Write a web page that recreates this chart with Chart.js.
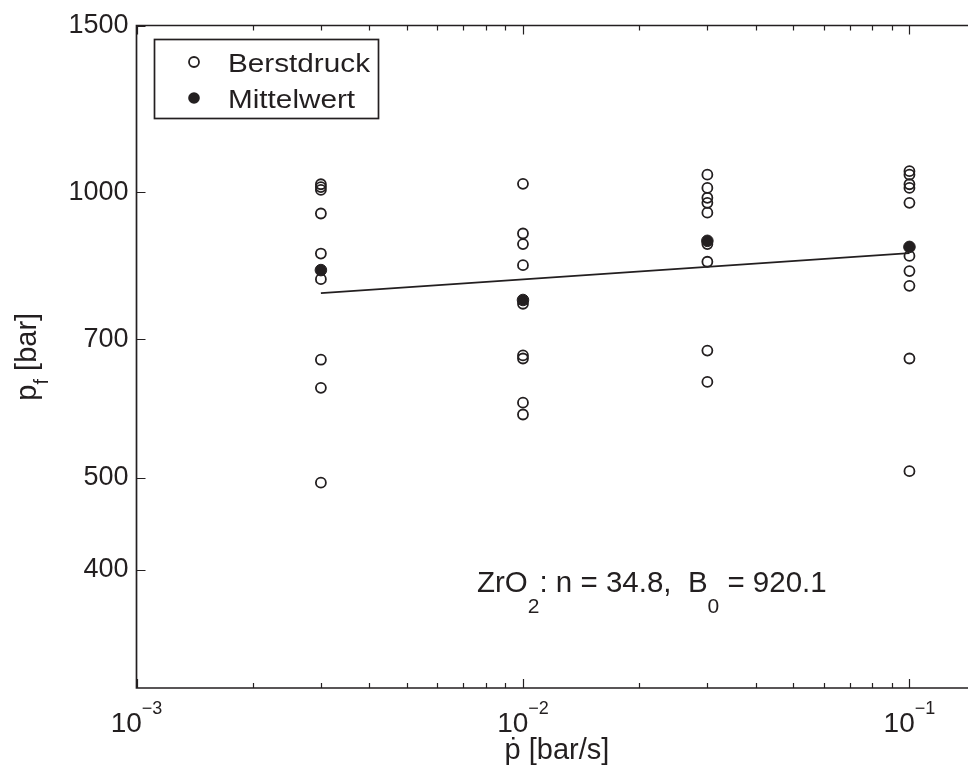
<!DOCTYPE html>
<html><head><meta charset="utf-8">
<script src="https://cdn.jsdelivr.net/npm/chart.js@4.4.1/dist/chart.umd.min.js"></script>
<style>
html,body{margin:0;padding:0;overflow:hidden;background:#fff;width:968px;height:771px}
#wrap{position:absolute;left:0;top:0;width:990px;height:771px}
</style></head><body>
<div id="wrap"><canvas id="c" width="990" height="771"></canvas></div>
<script>
// ---- data ----
const rateLevels = [0.003, 0.01, 0.03, 0.1];
const burstAt0003 = [1020, 1013, 1006, 950, 862, 810, 666, 622, 494];
const burstAt001  = [1021, 905, 882, 838, 763, 673, 668, 600, 583];
const burstAt003  = [1044, 1011, 987, 975, 952, 882, 845, 681, 631];
const burstAt01   = [1053, 1044, 1020, 1011, 975, 857, 826, 797, 668, 508];
const meanValues  = [828, 770, 889, 876];
const fitRates  = [0.003, 0.1];
const fitValues = [783, 863];
const yTickValues = [400, 500, 700, 1000, 1500];
const xTickValues = [0.001, 0.01, 0.1];
const xTickExponents = ['\u22123', '\u22122', '\u22121'];
const seriesLabels = ['Berstdruck', 'Mittelwert'];
const xTitle = '\u1E57 [bar/s]';
const yTitleParts = ['p', 'f', ' [bar]'];
const annotationParts = ['ZrO', '2', ': n = 34.8,  B', '0', ' = 920.1'];

const FONT = '"Liberation Sans", Arial, Helvetica, sans-serif';
const INK = '#231f20';

const burstGroups = [burstAt0003, burstAt001, burstAt003, burstAt01];
const burstPoints = burstGroups.flatMap((g, i) => g.map(v => ({x: rateLevels[i], y: v})));
const meanPoints = meanValues.map((v, i) => ({x: rateLevels[i], y: v}));
const fitPoints = fitValues.map((v, i) => ({x: fitRates[i], y: v}));

const frame = {
  id: 'frame',
  afterDraw(chart) {
    const {ctx, chartArea: a, scales: {x, y}} = chart;
    ctx.save();
    ctx.strokeStyle = INK;
    ctx.lineWidth = 1.7;
    ctx.lineCap = 'butt';
    ctx.beginPath();
    ctx.moveTo(a.right, a.top); ctx.lineTo(a.left, a.top);
    ctx.lineTo(a.left, a.bottom); ctx.lineTo(a.right, a.bottom);
    ctx.lineTo(a.right, a.top);
    ctx.stroke();
    // x ticks (inward, bottom and top)
    ctx.lineWidth = 1.2;
    ctx.beginPath();
    for (let d = -3; d <= -1; d++) {
      for (let m = 1; m <= 9; m++) {
        const v = m * Math.pow(10, d);
        if (v > x.max) break;
        const px = Math.round(x.getPixelForValue(v)) + 0.5;
        const len = m === 1 ? 9 : 5;
        ctx.moveTo(px, a.bottom); ctx.lineTo(px, a.bottom - len);
        ctx.moveTo(px, a.top); ctx.lineTo(px, a.top + len);
      }
    }
    // y ticks
    yTickValues.forEach(v => {
      const py = Math.round(y.getPixelForValue(v)) + 0.5;
      ctx.moveTo(a.left, py); ctx.lineTo(a.left + 9, py);
    });
    ctx.stroke();

    ctx.fillStyle = INK;
    ctx.textAlign = 'left';
    ctx.textBaseline = 'alphabetic';
    // x tick labels with superscripts
    xTickValues.forEach((v, i) => {
      const px = x.getPixelForValue(v);
      ctx.font = '28px ' + FONT;
      const wm = ctx.measureText('10').width;
      ctx.font = '18px ' + FONT;
      const ws = ctx.measureText(xTickExponents[i]).width;
      const s = px - (wm + ws) / 2;
      ctx.font = '28px ' + FONT;
      ctx.fillText('10', s, 732);
      ctx.font = '18px ' + FONT;
      ctx.fillText(xTickExponents[i], s + wm, 714);
    });
    // x title
    ctx.font = '29px ' + FONT + ', "DejaVu Sans"';
    ctx.textAlign = 'center';
    ctx.fillText(xTitle, (a.left + a.right) / 2, 759);
    // y title
    ctx.save();
    ctx.translate(36, (a.top + a.bottom) / 2);
    ctx.rotate(-Math.PI / 2);
    ctx.textAlign = 'left';
    ctx.font = '29px ' + FONT;
    const wp = ctx.measureText(yTitleParts[0]).width;
    const wr = ctx.measureText(yTitleParts[2]).width;
    ctx.font = '20px ' + FONT;
    const wf = ctx.measureText(yTitleParts[1]).width;
    let sx = -(wp + wf + wr) / 2;
    ctx.font = '29px ' + FONT;
    ctx.fillText(yTitleParts[0], sx, 0);
    ctx.font = '20px ' + FONT;
    ctx.fillText(yTitleParts[1], sx + wp, 12);
    ctx.font = '29px ' + FONT;
    ctx.fillText(yTitleParts[2], sx + wp + wf, 0);
    ctx.restore();

    // annotation
    ctx.textAlign = 'left';
    let ax = 477;
    annotationParts.forEach((t, i) => {
      const sub = i % 2 === 1;
      ctx.font = (sub ? '21px ' : '29.5px ') + FONT;
      ctx.fillText(t, ax, sub ? 613 : 592);
      ax += ctx.measureText(t).width;
    });

    // legend
    ctx.fillStyle = '#fff';
    ctx.fillRect(154, 39, 224, 79);
    ctx.strokeStyle = INK;
    ctx.lineWidth = 1.7;
    ctx.strokeRect(154.5, 39.5, 224, 79);
    ctx.lineWidth = 1.8;
    ctx.beginPath(); ctx.arc(194, 62, 5, 0, Math.PI * 2); ctx.stroke();
    ctx.fillStyle = INK;
    ctx.beginPath(); ctx.arc(194, 98, 5.8, 0, Math.PI * 2); ctx.fill();
    ctx.font = '26.5px ' + FONT;
    const lw = ctx.measureText(seriesLabels[0]).width;
    const k = 142 / lw;
    [[seriesLabels[0], 71.5], [seriesLabels[1], 107.5]].forEach(([t, by]) => {
      ctx.save();
      ctx.translate(228, by);
      ctx.scale(k, 1);
      ctx.fillText(t, 0, 0);
      ctx.restore();
    });
    ctx.restore();
  }
};

new Chart(document.getElementById('c'), {
  type: 'scatter',
  data: {
    datasets: [
      {label: 'fit', data: fitPoints, showLine: true, borderColor: INK, borderWidth: 1.8,
       pointRadius: 0, pointHoverRadius: 0, fill: false},
      {label: seriesLabels[0], data: burstPoints, pointRadius: 5, pointBorderWidth: 1.8,
       borderColor: INK, backgroundColor: 'rgba(0,0,0,0)', pointBackgroundColor: 'rgba(0,0,0,0)'},
      {label: seriesLabels[1], data: meanPoints, pointRadius: 5.8, pointBorderWidth: 1,
       borderColor: INK, backgroundColor: INK, pointBackgroundColor: INK}
    ]
  },
  options: {
    responsive: false,
    animation: false,
    events: [],
    layout: {padding: {top: 25.5, right: 12.5, left: 0, bottom: 0}},
    plugins: {legend: {display: false}, tooltip: {enabled: false}},
    scales: {
      x: {
        type: 'logarithmic', min: 0.001, max: 0.15,
        grid: {display: false, drawTicks: false}, border: {display: false},
        ticks: {display: false},
        afterFit(s) { s.height = 83; }
      },
      y: {
        type: 'logarithmic', min: 300, max: 1500,
        grid: {display: false, drawTicks: false}, border: {display: false},
        ticks: {autoSkip: false, padding: 8, color: INK, font: {family: FONT, size: 27},
                callback: (v) => String(v)},
        afterBuildTicks(s) { s.ticks = yTickValues.map(v => ({value: v})); },
        afterFit(s) { s.width = 136.5; }
      }
    }
  },
  plugins: [frame]
});
</script>
</body></html>
